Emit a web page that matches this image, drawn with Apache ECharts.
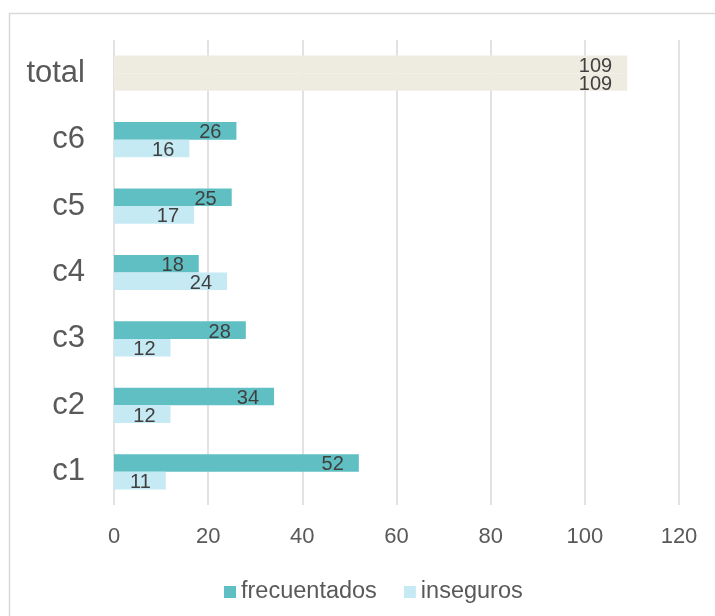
<!DOCTYPE html>
<html>
<head>
<meta charset="utf-8">
<script src="https://cdn.jsdelivr.net/npm/echarts@6/dist/echarts.min.js"></script>
<style>html,body{margin:0;padding:0;background:#fff}#c{width:715px;height:616px}</style>
</head>
<body>
<div id="c"></div>
<script>
var categories = ['c1', 'c2', 'c3', 'c4', 'c5', 'c6', 'total'];
var frecuentados = [52, 34, 28, 18, 25, 26, 109];
var inseguros = [11, 12, 12, 24, 17, 16, 109];
var xTicks = [0, 20, 40, 60, 80, 100, 120];
var seriesNames = ['frecuentados', 'inseguros'];

var FONT = "'Liberation Sans', Arial, Helvetica, sans-serif";
var COL_A = '#5FBFC3', COL_B = '#C6EAF4', COL_TOTAL = '#EEEBE0';

function toData(arr) {
  return arr.map(function (v, i) {
    if (categories[i] === 'total') return { value: v, itemStyle: { color: COL_TOTAL } };
    return v;
  });
}
var labelCfg = {
  show: true, position: 'insideRight', distance: 15, offset: [0, 2],
  color: '#404040', fontSize: 20, fontFamily: FONT
};

var chart = echarts.init(document.getElementById('c'));
chart.setOption({
  animation: false,
  backgroundColor: '#fff',
  graphic: [{
    type: 'rect', left: 7, top: 11, shape: { width: 720, height: 620 },
    style: { fill: 'none', stroke: '#D9D9D9', lineWidth: 1.5 }, silent: true, z: -1
  }],
  grid: { left: 114, right: 36, top: 40, bottom: 111, containLabel: false },
  legend: {
    data: seriesNames, left: 219, top: 575, itemWidth: 12, itemHeight: 12, itemGap: 27,
    icon: 'rect',
    textStyle: { color: '#595959', fontSize: 23.5, fontFamily: FONT, padding: [0, 0, 0, 0] }
  },
  xAxis: {
    type: 'value', min: xTicks[0], max: xTicks[xTicks.length - 1], interval: xTicks[1] - xTicks[0],
    axisLine: { show: false }, axisTick: { show: false },
    splitLine: { show: true, lineStyle: { color: '#D9D9D9', width: 1.5 } },
    axisLabel: { color: '#595959', fontSize: 22, fontFamily: FONT, margin: 21 }
  },
  yAxis: {
    type: 'category', data: categories,
    axisLine: { show: false }, axisTick: { show: false },
    axisLabel: { color: '#595959', fontSize: 31, fontFamily: FONT, margin: 29, padding: [5, 0, 0, 0] }
  },
  series: [
    { name: seriesNames[0], type: 'bar', data: toData(frecuentados), itemStyle: { color: COL_A },
      barGap: '0%', barCategoryGap: '47%', label: labelCfg },
    { name: seriesNames[1], type: 'bar', data: toData(inseguros), itemStyle: { color: COL_B },
      barGap: '0%', barCategoryGap: '47%', label: labelCfg }
  ]
});
</script>
</body>
</html>
